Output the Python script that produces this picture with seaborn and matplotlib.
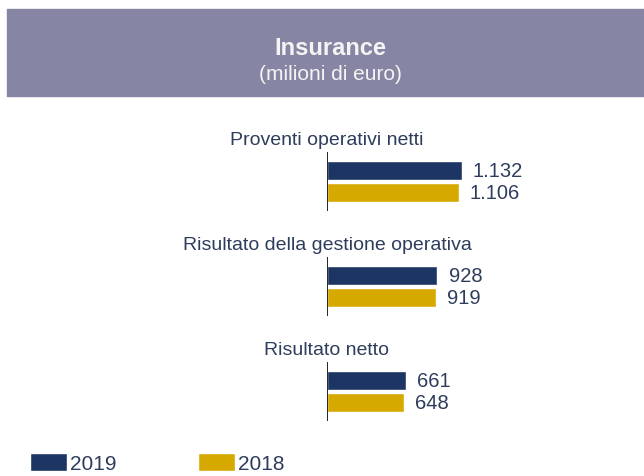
import pandas as pd
import matplotlib.pyplot as plt
import seaborn as sns
from matplotlib.patches import Rectangle

categorie = ['Proventi operativi netti',
             'Risultato della gestione operativa',
             'Risultato netto']
valori_2019 = [1132, 928, 661]
valori_2018 = [1106, 919, 648]
anni = ['2019', '2018']

navy = '#1c3563'
gold = '#d6a900'
testo = '#2e3d5c'

df = pd.DataFrame({
    'categoria': categorie * 2,
    'valore': valori_2019 + valori_2018,
    'anno': [anni[0]] * 3 + [anni[1]] * 3,
})

sns.set_style('white')
plt.rcParams['font.family'] = ['Liberation Sans', 'DejaVu Sans']

W, H = 644, 477
fig = plt.figure(figsize=(W / 100, H / 100), dpi=100)

# header band
fig.patches.append(Rectangle((7 / W, 1 - 97 / H), 1 - 7 / W, 87 / H,
                             transform=fig.transFigure, color='#8686a4', zorder=0))
fig.text(330 / W, 1 - 55 / H, 'Insurance', ha='center', va='baseline',
         fontsize=17, fontweight='bold', color='#f4f4f4')
fig.text(330 / W, 1 - 80 / H, '(milioni di euro)', ha='center', va='baseline',
         fontsize=15, color='#f4f4f4')

ax = fig.add_axes([327 / W, (H - 445) / H, 1 - 327 / W, 315 / H])
sns.barplot(data=df, y='categoria', x='valore', hue='anno', hue_order=anni,
            palette=[navy, gold], saturation=1, orient='h', width=0.41,
            gap=0.12, errorbar=None, ax=ax)

ax.set_xlim(0, 317 / 0.119)
ax.set_ylim(2.5, -0.5)
ax.set_xlabel('')
ax.set_ylabel('')
ax.set_xticks([])
ax.set_yticks([])
sns.despine(ax=ax, left=True, bottom=True)

for cont in ax.containers:
    etichette = [f'{v:,.0f}'.replace(',', '.') for v in cont.datavalues]
    ax.bar_label(cont, labels=etichette, padding=8, fontsize=14.5, color=testo)

for i, cat in enumerate(categorie):
    ax.vlines(0, i - 0.28, i + 0.28, color='black', lw=1.2)
    ax.text(0, i - 0.36, cat, ha='center', va='baseline', fontsize=14,
            color=testo, clip_on=False)

sns.move_legend(ax, 'center left', bbox_to_anchor=(30 / W, 1 - 464 / H),
                bbox_transform=fig.transFigure, ncol=2, frameon=False,
                title=None, fontsize=15, handlelength=1.78, handleheight=0.95,
                handletextpad=0.15, columnspacing=3.9, borderpad=0,
                borderaxespad=0)
for t in ax.get_legend().get_texts():
    t.set_color(testo)

fig.savefig('out.png', dpi=100)
